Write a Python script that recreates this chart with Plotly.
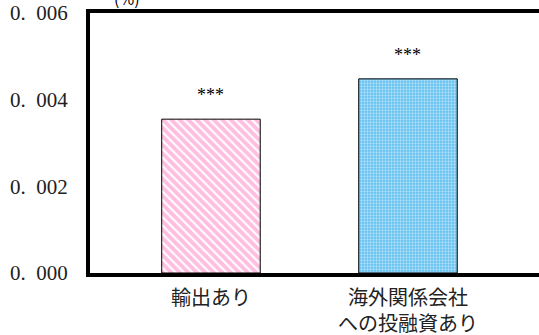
import plotly.graph_objects as go

categories = ["輸出あり", "海外関係会社<br>への投融資あり"]
values = [0.00355, 0.00448]
stars = ["***", "***"]
tick_vals = [0.000, 0.002, 0.004, 0.006]
tick_text = ["0.\u00a0\u00a0000", "0.\u00a0\u00a0002", "0.\u00a0\u00a0004", "0.\u00a0\u00a0006"]

font_jp = "Noto Sans CJK JP"
font_num = "Liberation Serif"

fig = go.Figure()
fig.add_trace(go.Bar(
    x=[0], y=[values[0]], width=0.5,
    marker=dict(color="white", line=dict(color="black", width=1),
                pattern=dict(shape="\\", fgcolor="#ff7cc4", bgcolor="white",
                             size=6, solidity=0.65)),
))
fig.add_trace(go.Bar(
    x=[1], y=[values[1]], width=0.5,
    marker=dict(color="#62c0f0", line=dict(color="black", width=1),
                pattern=dict(shape=".", fgcolor="white", bgcolor="#62c0f0",
                             size=3, solidity=0.45)),
))

for i, v in enumerate(values):
    fig.add_annotation(x=i, y=v, text=stars[i], showarrow=False,
                       yanchor="bottom", yshift=12,
                       font=dict(family=font_num, size=18, color="black"))

fig.add_annotation(xref="paper", yref="paper", x=0.05, y=1, yshift=15,
                   text="(%)", showarrow=False, yanchor="middle",
                   font=dict(family=font_jp, size=16, color="black"))

fig.update_layout(
    width=539, height=335,
    margin=dict(l=90, r=0, t=13, b=62),
    plot_bgcolor="white", paper_bgcolor="white",
    showlegend=False,
    xaxis=dict(range=[-0.614, 1.665], tickvals=[0, 1], ticktext=categories,
               showline=True, mirror=True, linecolor="black", linewidth=4,
               showgrid=False, ticks="", automargin=False,
               ticklabelstandoff=4,
               tickfont=dict(family=font_jp, size=20, color="#222222")),
    yaxis=dict(range=[0, 0.006], tickvals=tick_vals, ticktext=tick_text,
               showline=True, linecolor="black", linewidth=4,
               showgrid=False, zeroline=False, ticks="", automargin=False,
               ticklabelstandoff=14,
               tickfont=dict(family=font_num, size=21, color="#222222")),
)

# drop the default 8px page margin so the figure fills the window
fig.write_html("out.html", config={"displayModeBar": False},
               post_script="document.body.style.margin='0px';")
